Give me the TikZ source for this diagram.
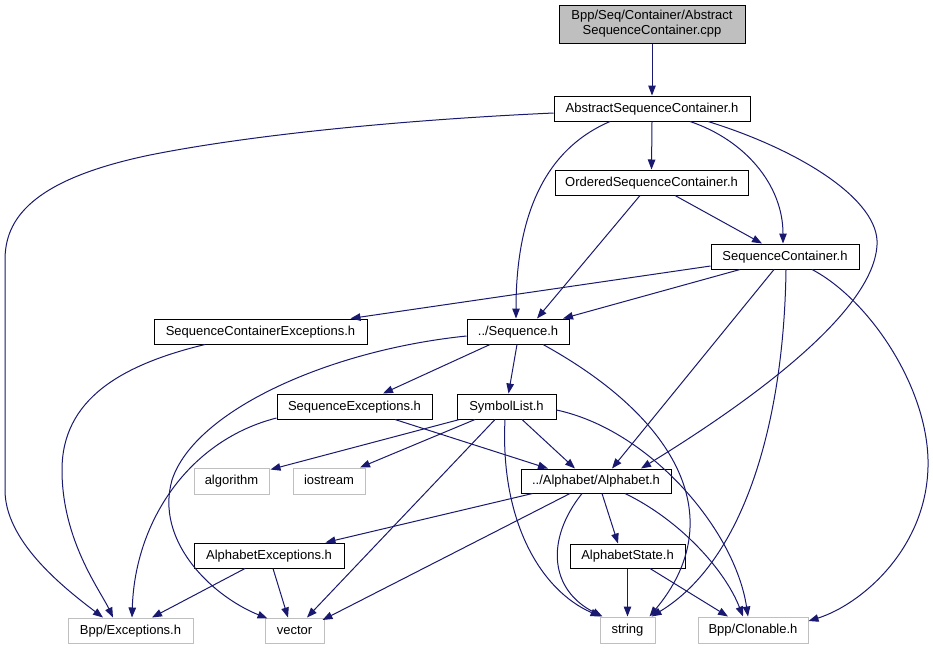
\documentclass[tikz,border=0pt]{standalone}
\usepackage{fontspec}
\setmainfont{Liberation Sans}
\usetikzlibrary{arrows.meta,calc}
\definecolor{edgeblue}{HTML}{191970}
\definecolor{sysgray}{HTML}{BFBFBF}
\begin{document}
\begin{tikzpicture}[x=1pt,y=-1pt,
  box/.style={draw=black,line width=1pt,rectangle,inner sep=0pt,font=\fontsize{13}{15}\selectfont,align=center},
  one/.style={text height=9.5pt,text depth=2.5pt},
  sys/.style={draw=sysgray,line width=1pt,rectangle,inner sep=0pt,font=\fontsize{13}{15}\selectfont,text height=9.5pt,text depth=2.5pt},
  dep/.style={draw=edgeblue,line width=1pt,-{Triangle[length=10pt,width=7.5pt]}}]
\useasboundingbox[fill=white] (0,0) rectangle (933,649);
% nodes
\node[box,fill=sysgray,minimum width=186pt,minimum height=38pt] (cpp) at (652,24) {Bpp/Seq/Container/Abstract\\SequenceContainer.cpp};
\node[box,one,minimum width=196pt,minimum height=25pt] (asc) at (652,108.5) {AbstractSequenceContainer.h};
\node[box,one,minimum width=193pt,minimum height=25pt] (osc) at (651.5,182.5) {OrderedSequenceContainer.h};
\node[box,one,minimum width=148pt,minimum height=25pt] (sc) at (785,256.5) {SequenceContainer.h};
\node[box,one,minimum width=213pt,minimum height=25pt] (sce) at (260.5,331.5) {SequenceContainerExceptions.h};
\node[box,one,minimum width=102pt,minimum height=25pt] (seq) at (518,331.5) {../Sequence.h};
\node[box,one,minimum width=155pt,minimum height=25pt] (sex) at (354.5,406.5) {SequenceExceptions.h};
\node[box,one,minimum width=99pt,minimum height=25pt] (sym) at (506.5,406.5) {SymbolList.h};
\node[sys,minimum width=75pt,minimum height=26pt] (alg) at (231.5,481) {algorithm};
\node[sys,minimum width=72pt,minimum height=26pt] (ios) at (329,481) {iostream};
\node[box,one,minimum width=150pt,minimum height=24pt] (alp) at (596,481) {../Alphabet/Alphabet.h};
\node[box,one,minimum width=115pt,minimum height=24pt] (ast) at (627.5,556) {AlphabetState.h};
\node[box,one,minimum width=150pt,minimum height=25pt] (aex) at (269,555.5) {AlphabetExceptions.h};
\node[sys,minimum width=125pt,minimum height=25pt] (exc) at (130.5,630.5) {Bpp/Exceptions.h};
\node[sys,minimum width=59pt,minimum height=25pt] (vec) at (294.5,630.5) {vector};
\node[sys,minimum width=55pt,minimum height=26pt] (str) at (627.5,630) {string};
\node[sys,minimum width=110pt,minimum height=26pt] (clo) at (753,630) {Bpp/Clonable.h};
% edges
\draw[dep] (cpp.south) -- (asc.north);
\draw[dep] ($(asc.west)+(0,4.5)$) .. controls (400,120) and (250,135) .. (150,155)
   .. controls (30,180) and (5,220) .. (5,260) -- (5,490)
   .. controls (5,540) and (60,585) .. ($(exc.north)+(-27.5,0)$);
\draw[dep] ($(asc.south)+(-42,0)$) .. controls (555,145) and (516,200) .. ($(seq.north)+(-2,0)$);
\draw[dep] (asc.south) -- (osc.north);
\draw[dep] ($(asc.south)+(38,0)$) .. controls (745,140) and (783,185) .. ($(sc.north)+(-2,0)$);
\draw[dep] ($(asc.south)+(56,0)$) .. controls (800,150) and (880,200) .. (877,245)
   .. controls (873,320) and (720,420) .. ($(alp.north)+(45,0)$);
\draw[dep] ($(osc.south)+(-11.5,0)$) -- ($(seq.north)+(19,0)$);
\draw[dep] ($(osc.south)+(23.5,0)$) -- ($(sc.north)+(-23,0)$);
\draw[dep] ($(sc.west)+(0,9.5)$) -- ($(sce.north)+(90,0)$);
\draw[dep] ($(sc.south)+(-45,0)$) -- ($(seq.north)+(45,0)$);
\draw[dep] ($(sc.south)+(-11,0)$) -- ($(alp.north)+(16,0)$);
\draw[dep] ($(sc.south)+(1,0)$) .. controls (784,420) and (745,560) .. ($(str.north)+(24,0)$);
\draw[dep] ($(sc.south)+(27,0)$) .. controls (870,300) and (930,390) .. (928,467)
   .. controls (926,550) and (860,605) .. ($(clo.east)+(0,-9)$);
\draw[dep] ($(sce.south)+(-55.5,0)$) .. controls (120,365) and (62,400) .. (62,470)
   .. controls (62,540) and (100,590) .. ($(exc.north)+(-17.5,0)$);
\draw[dep] ($(seq.west)+(0,4.5)$) .. controls (330,350) and (195,410) .. (172,480)
   .. controls (155,540) and (210,595) .. ($(vec.north west)+(3,1)$);
\draw[dep] ($(seq.south)+(-28,0)$) -- ($(sex.north)+(28.5,0)$);
\draw[dep] ($(seq.south)+(-1,0)$) -- ($(sym.north)+(2,0)$);
\draw[dep] ($(seq.south)+(25,0)$) .. controls (680,420) and (730,520) .. ($(str.north)+(22,0)$);
\draw[dep] ($(sex.west)+(0,11.5)$) .. controls (190,440) and (135,520) .. ($(exc.north)+(1.5,0)$);
\draw[dep] ($(sex.south)+(40.5,0)$) -- ($(alp.north)+(-48,0)$);
\draw[dep] ($(sym.south west)+(3,0)$) -- ($(alg.north east)+(1,2)$);
\draw[dep] ($(sym.south)+(-31.5,0)$) -- ($(ios.north)+(31,0)$);
\draw[dep] ($(sym.south)+(-11.5,0)$) -- ($(vec.north)+(12.5,0)$);
\draw[dep] ($(sym.south)+(-1.5,0)$) .. controls (500,520) and (540,590) .. ($(str.north)+(-27,0)$);
\draw[dep] ($(sym.south)+(15.5,0)$) -- ($(alp.north)+(-21,0)$);
\draw[dep] ($(sym.east)+(0,3.5)$) .. controls (650,430) and (735,530) .. ($(clo.north)+(-5,0)$);
\draw[dep] ($(alp.south west)+(12,0)$) -- ($(aex.north east)+(-19,0)$);
\draw[dep] ($(alp.south)+(-26,0)$) -- ($(vec.east)+(-2,-10.5)$);
\draw[dep] ($(alp.south)+(-14,0)$) .. controls (545,540) and (550,590) .. ($(str.north)+(-25,0)$);
\draw[dep] ($(alp.south)+(6,0)$) -- ($(ast.north)+(-9.5,0)$);
\draw[dep] ($(alp.south)+(29,0)$) .. controls (680,520) and (725,570) .. ($(clo.north)+(-10,0)$);
\draw[dep] (ast.south) -- (str.north);
\draw[dep] ($(ast.south)+(22.5,0)$) -- ($(clo.north)+(-25,0)$);
\draw[dep] ($(aex.south)+(-24,0)$) -- ($(exc.north)+(21.5,0)$);
\draw[dep] ($(aex.south)+(4,0)$) -- ($(vec.north)+(-6.5,0)$);
\end{tikzpicture}
\end{document}
